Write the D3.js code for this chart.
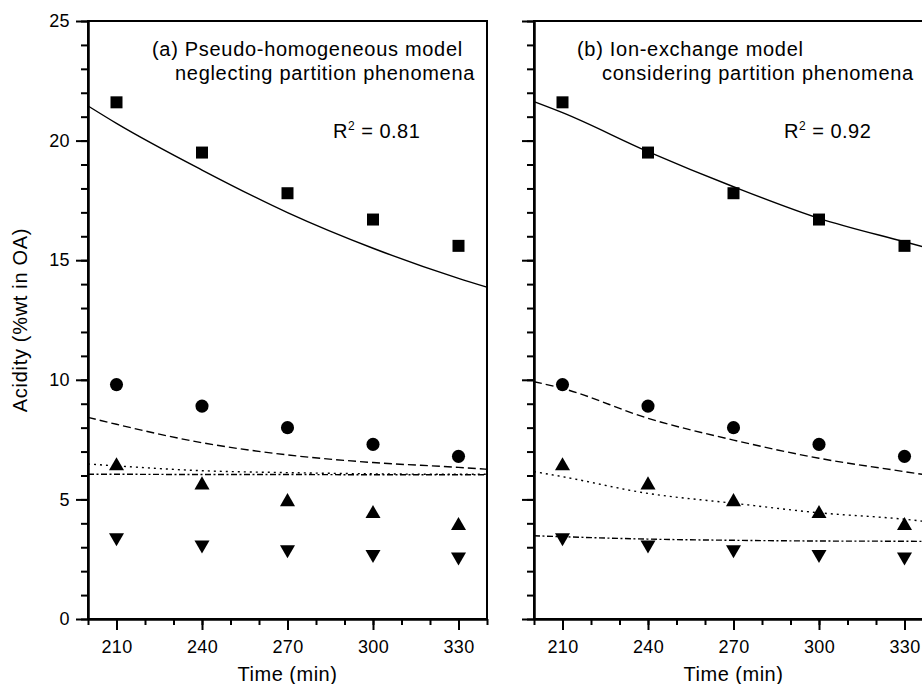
<!DOCTYPE html>
<html>
<head>
<meta charset="utf-8">
<script src="https://cdnjs.cloudflare.com/ajax/libs/d3/7.8.5/d3.min.js"></script>
<style>
  body { margin: 0; background: #fff; }
  svg text { font-family: "Liberation Sans", Arial, sans-serif; fill: #000; }
  .axis path, .axis line { stroke: #000; stroke-width: 2; }
  .axis text { font-size: 18px; letter-spacing: 0.4px; }
  .fit { fill: none; stroke: #000; stroke-width: 1.4; }
</style>
</head>
<body>
<script>
// measured points (same in both panels)
const times = [210, 240, 270, 300, 330];
const squares = [21.6, 19.5, 17.8, 16.7, 15.6];
const circles = [9.8, 8.9, 8.0, 7.3, 6.8];
const upTri = [6.4, 5.6, 4.9, 4.4, 3.9];
const downTri = [3.4, 3.1, 2.9, 2.7, 2.6];

// model curves at these times
const curveTimes = [200, 210, 240, 270, 300, 330, 340];
const fitA_solid = [21.45, 20.72, 18.77, 16.99, 15.5, 14.24, 13.87];
const fitA_dash = [8.43, 8.14, 7.37, 6.86, 6.54, 6.34, 6.26];
const fitA_dot = [6.48, 6.4, 6.2, 6.12, 6.07, 6.05, 6.05];
const fitA_dashdot = [6.05, 6.05, 6.04, 6.04, 6.03, 6.03, 6.03];
const fitB_solid = [21.63, 21.17, 19.54, 18.07, 16.75, 15.77, 15.45];
const fitB_dash = [9.92, 9.64, 8.39, 7.48, 6.72, 6.16, 5.98];
const fitB_dot = [6.16, 5.95, 5.25, 4.84, 4.44, 4.17, 4.04];
const fitB_dashdot = [3.48, 3.44, 3.34, 3.29, 3.26, 3.25, 3.24];

const xTicks = [210, 240, 270, 300, 330];
const yTicks = [0, 5, 10, 15, 20, 25];

const W = 922, H = 684;
const pw = 399, ph = 598;

const svg = d3.select("body").append("svg")
    .attr("width", W)
    .attr("height", H);

const x = d3.scaleLinear().domain([200, 340]).range([0, pw]);
const y = d3.scaleLinear().domain([0, 25]).range([ph, 0]);

const line = d3.line()
    .x(d => x(d[0]))
    .y(d => y(d[1]))
    .curve(d3.curveMonotoneX);

const dashes = {
  solid: null,
  dash: "8,4",
  dot: "2,4",
  dashdot: "6,2.5,2,2.5"
};

function panel(left, fits, title1, title2, t1x, t2x, r2text, r2x, showYLabels) {
  const g = svg.append("g").attr("transform", "translate(" + left + ",21)");

  // frame
  g.append("rect")
      .attr("width", pw).attr("height", ph)
      .attr("fill", "none").attr("stroke", "#000").attr("stroke-width", 2);

  // x axis: minor then major
  g.append("g").attr("class", "axis")
      .attr("transform", "translate(0," + ph + ")")
      .call(d3.axisBottom(x).tickValues(d3.range(200, 341, 10)).tickSize(6).tickSizeOuter(0).tickFormat(""));
  g.append("g").attr("class", "axis")
      .attr("transform", "translate(0," + ph + ")")
      .call(d3.axisBottom(x).tickValues(xTicks).tickSize(11).tickSizeOuter(0).tickPadding(10));

  // y axis
  g.append("g").attr("class", "axis")
      .call(d3.axisLeft(y).tickValues(d3.range(0, 26, 1)).tickSize(7).tickSizeOuter(0).tickFormat(""));
  g.append("g").attr("class", "axis")
      .call(d3.axisLeft(y).tickValues(yTicks).tickSize(12).tickSizeOuter(0).tickPadding(6)
        .tickFormat(showYLabels ? d3.format("d") : ""));

  // fitted curves
  const keys = ["solid", "dash", "dot", "dashdot"];
  keys.forEach((k, i) => {
    g.append("path")
        .attr("class", "fit")
        .attr("stroke-dasharray", dashes[k])
        .attr("d", line(curveTimes.map((t, j) => [t, fits[i][j]])));
  });

  // experimental points
  const sets = [
    {vals: squares, sym: d3.symbolSquare, size: 144, rot: 0},
    {vals: circles, sym: d3.symbolCircle, size: 135, rot: 0},
    {vals: upTri, sym: d3.symbolTriangle, size: 98, rot: 0},
    {vals: downTri, sym: d3.symbolTriangle, size: 98, rot: 180}
  ];
  sets.forEach(s => {
    g.selectAll(null)
      .data(times.map((t, i) => [t, s.vals[i]]))
      .enter().append("path")
        .attr("d", d3.symbol().type(s.sym).size(s.size))
        .attr("transform", d => "translate(" + x(d[0]) + "," + y(d[1]) + ") rotate(" + s.rot + ")")
        .attr("fill", "#000");
  });

  // annotations
  g.append("text")
      .attr("x", t1x).attr("y", 35)
      .style("font-size", "20px").style("letter-spacing", "0.7px")
      .text(title1);
  g.append("text")
      .attr("x", t2x).attr("y", 59)
      .style("font-size", "20px").style("letter-spacing", "0.7px")
      .text(title2);
  const r2 = g.append("text")
      .attr("x", r2x).attr("y", 117)
      .style("font-size", "20px").style("letter-spacing", "0.5px");
  r2.append("tspan").text("R");
  r2.append("tspan").attr("dy", -8).style("font-size", "12px").text("2");
  r2.append("tspan").attr("dy", 8).text(" = " + r2text);

  // x title
  g.append("text")
      .attr("x", pw / 2).attr("y", 660)
      .attr("text-anchor", "middle")
      .style("font-size", "20px").style("letter-spacing", "0.5px")
      .text("Time (min)");
}

panel(88, [fitA_solid, fitA_dash, fitA_dot, fitA_dashdot],
  "(a) Pseudo-homogeneous model", "neglecting partition phenomena", 64, 87, "0.81", 245, true);
panel(534, [fitB_solid, fitB_dash, fitB_dot, fitB_dashdot],
  "(b) Ion-exchange model", "considering partition phenomena", 43, 68, "0.92", 250, false);

// y title
svg.append("text")
    .attr("transform", "translate(27," + (21 + ph / 2) + ") rotate(-90)")
    .attr("text-anchor", "middle")
    .style("font-size", "20px").style("letter-spacing", "0.7px")
    .text("Acidity (%wt in OA)");
</script>
</body>
</html>
